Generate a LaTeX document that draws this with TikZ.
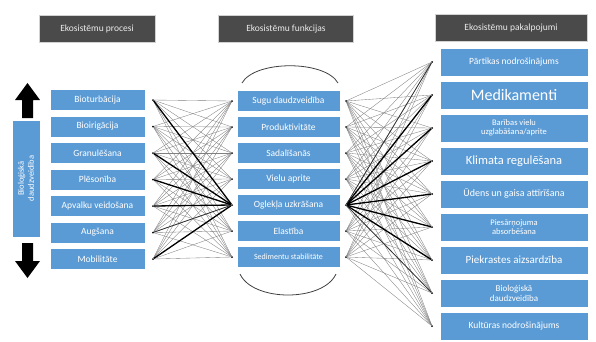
\documentclass[tikz,border=0pt]{standalone}
\usepackage{fontspec}
\setmainfont{Carlito}
\definecolor{boxblue}{HTML}{5B9BD5}
\definecolor{headgray}{HTML}{4A4A4A}
\begin{document}
\begin{tikzpicture}[x=1pt,y=-1pt,
  tile/.style={fill=boxblue, draw=white, line width=0.8pt, text=white, align=center,
    inner sep=0pt, font=\fontsize{9.5}{10}\selectfont},
  proc/.style={tile, minimum width=95pt, minimum height=21pt},
  func/.style={tile, minimum width=103pt, minimum height=21pt},
  serv/.style={tile, minimum width=148pt, minimum height=28pt, font=\fontsize{8.5}{9}\selectfont},
  head/.style={fill=headgray, draw=gray!35, line width=1pt, text=gray!15, minimum height=27pt,
    inner sep=0pt, font=\fontsize{9.5}{10}\selectfont},
  dot/.style={circle, fill=black, inner sep=0pt, minimum size=2pt},
  link/.style={draw=black!50, line width=0.35pt},
  boldlink/.style={draw=black, line width=1.3pt},
  midlink/.style={draw=black!80, line width=0.8pt},
  loop/.style={draw=black!75, line width=0.8pt}
]
\useasboundingbox (0,0) rectangle (596,341);

% column headers
\node[head, minimum width=116pt] (hp) at (97,29) {Ekosistēmu procesi};
\node[head, minimum width=135pt] (hf) at (286,29) {Ekosistēmu funkcijas};
\node[head, minimum width=152pt] (hs) at (511,28) {Ekosistēmu pakalpojumi};

% processes
\foreach \t [count=\i] in {Bioturbācija, Bioirigācija, Granulēšana, Plēsonība,
    Apvalku veidošana, Augšana, Mobilitāte} {
  \node[proc] (p\i) at (97.5,{100+26.5*(\i-1)}) {\t};
  \node[dot] (pd\i) at (153,{100+26.5*(\i-1)}) {};
}

% functions
\foreach \t [count=\i] in {Sugu daudzveidība, Produktivitāte, Sadalīšanās, Vielu aprite,
    Oglekļa uzkrāšana, Elastība, {\fontsize{8}{9}\selectfont Sedimentu stabilitāte}} {
  \node[func] (f\i) at (288.5,{101+26*(\i-1)}) {\t};
  \node[dot] (fl\i) at (232,{101+26*(\i-1)}) {};
  \node[dot] (fr\i) at (346,{101+26*(\i-1)}) {};
}

% services
\node[serv, font=\fontsize{9.5}{10}\selectfont] (s1) at (514,62) {Pārtikas nodrošinājums};
\node[serv, font=\fontsize{16}{17}\selectfont] (s2) at (514,95) {Medikamenti};
\node[serv] (s3) at (514,128) {Barības vielu\\uzglabāšana/aprite};
\node[serv, font=\fontsize{12.5}{13}\selectfont] (s4) at (514,161) {Klimata regulēšana};
\node[serv, font=\fontsize{10}{11}\selectfont] (s5) at (514,194) {Ūdens un gaisa attīrīšana};
\node[serv] (s6) at (514,227) {Piesārņojuma\\absorbēšana};
\node[serv, font=\fontsize{11}{12}\selectfont] (s7) at (514,260) {Piekrastes aizsardzība};
\node[serv, font=\fontsize{9}{10}\selectfont] (s8) at (514,293) {Bioloģiskā\\daudzveidība};
\node[serv, font=\fontsize{9.5}{10}\selectfont] (s9) at (514,326) {Kultūras nodrošinājums};
\foreach \i in {1,...,9}
  \node[dot] (sd\i) at (432,{62+33*(\i-1)}) {};

% biodiversity bar with arrows
\node[tile, rotate=90, minimum width=117pt, minimum height=28pt, font=\fontsize{8.5}{10}\selectfont]
  (bd) at (26,178.5) {Bioloģiskā\\daudzveidība};
\fill[black] (27.5,83) -- (40,100) -- (33,100) -- (33,118) -- (22,118) -- (22,100) -- (15,100) -- cycle;
\fill[black] (27.5,278) -- (40,261) -- (33,261) -- (33,243) -- (22,243) -- (22,261) -- (15,261) -- cycle;

% process -> function links
\foreach \i in {1,...,7}
  \foreach \j in {1,...,7}
    \draw[link] (pd\i) -- (fl\j);
\foreach \i in {1,3,4,5,7}
  \draw[boldlink] (pd\i) -- (fl5);
\draw[midlink] (pd6) -- (fl5);

% function -> service links
\foreach \i in {1,...,7}
  \foreach \j in {1,...,9}
    \draw[link] (fr\i) -- (sd\j);
\foreach \j in {2,3,4,5,6,7}
  \draw[boldlink] (fr5) -- (sd\j);
\draw[midlink] (fr5) -- (sd1);
\draw[midlink] (fr5) -- (sd8);

% feedback loops around the functions
\coordinate (ta) at (242,83);
\coordinate (tb) at (338,83);
\coordinate (ba) at (240,274);
\coordinate (bb) at (336,274);
\draw[loop] (ta) .. controls (255,60) and (325,60) .. (tb);
\draw[loop] (ba) .. controls (253,302) and (323,302) .. (bb);
\end{tikzpicture}
\end{document}
